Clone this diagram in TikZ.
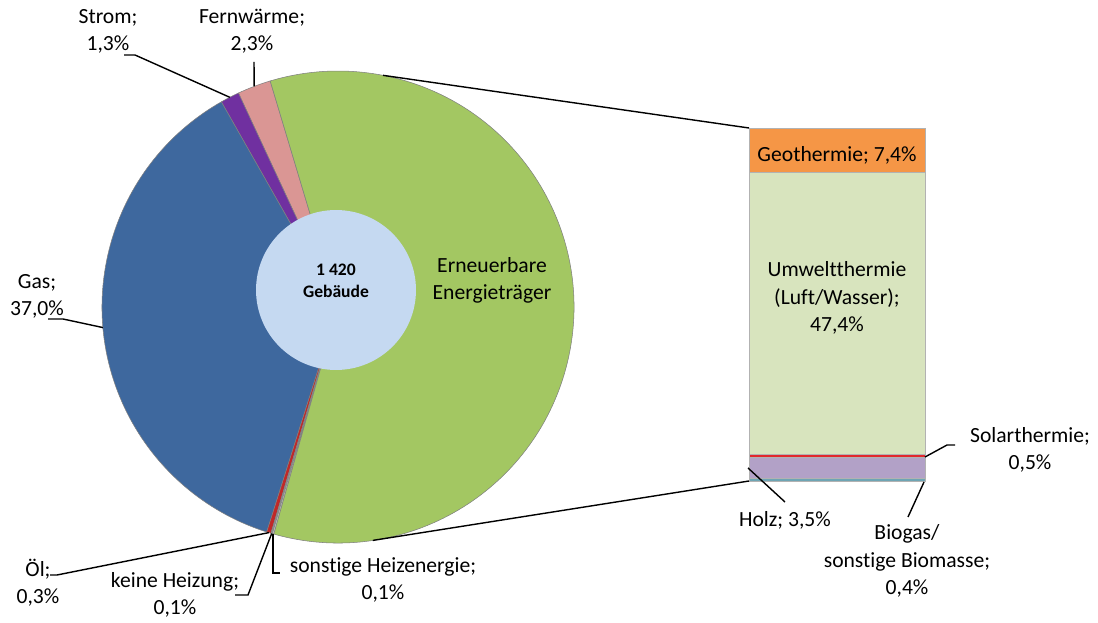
\documentclass[tikz,border=0pt]{standalone}
\usepackage{fontspec}
\setmainfont{Carlito}[Ligatures=NoCommon]
\usetikzlibrary{calc}
\definecolor{gasblau}{RGB}{62,104,158}
\definecolor{erngruen}{RGB}{163,199,98}
\definecolor{stromlila}{RGB}{112,48,160}
\definecolor{fernrosa}{RGB}{218,150,148}
\definecolor{oelrot}{RGB}{192,40,40}
\definecolor{keingrau}{RGB}{150,150,150}
\definecolor{sonstgrau}{RGB}{200,200,200}
\definecolor{blase}{RGB}{197,217,241}
\definecolor{geoorange}{RGB}{245,150,70}
\definecolor{umweltgruen}{RGB}{216,228,190}
\definecolor{solarrot}{RGB}{225,40,45}
\definecolor{holzlila}{RGB}{178,161,199}
\definecolor{biotuerkis}{RGB}{110,165,180}
\tikzset{lbl/.style={align=center, inner sep=0pt},
  ldr/.style={black, line width=0.8pt}}
\begin{document}
\begin{tikzpicture}[x=0.02cm, y=0.02cm, font=\fontsize{12.3}{15.5}\selectfont]
\useasboundingbox (0,0) rectangle (1098,622);
\coordinate (M) at (338,315);
\foreach \a/\b/\c in {106.7/114.96/fernrosa, 114.96/119.62/stromlila, 119.62/252.42/gasblau, 252.42/253.5/oelrot, 253.5/253.86/keingrau, 253.86/254.22/sonstgrau, 254.22/466.7/erngruen}
  \filldraw[fill=\c, draw=black!50, line width=0.3pt] (M) -- ++(\a:236) arc (\a:\b:236) -- cycle;
\node[circle, fill=blase, minimum size=3.2cm, inner sep=0pt] (zentrum) at (336,332) {};
\node[align=center, font=\bfseries\fontsize{10}{12.5}\selectfont] (anzahl) at (336,341) {1 420\\Gebäude};
\foreach \o/\u/\c in {494/449.9/geoorange, 449.9/167.3/umweltgruen, 167.3/164.3/solarrot, 164.3/143.4/holzlila, 143.4/141/biotuerkis}
  \filldraw[fill=\c, draw=black!30, line width=0.3pt] (749,\o) rectangle (925,\u);
\node[lbl] (strom) at (108,591) {Strom;\\1,3\%};
\node[lbl] (fern) at (252,591) {Fernwärme;\\2,3\%};
\node[lbl] (gas) at (37,326) {Gas;\\37,0\%};
\node[lbl] (ern) at (492,342) {Erneuerbare\\Energieträger};
\node[lbl] (oel) at (38,39) {Öl;\\0,3\%};
\node[lbl] (keine) at (175,27) {keine Heizung;\\0,1\%};
\node[lbl] (sonst) at (383,42) {sonstige Heizenergie;\\0,1\%};
\node[lbl] (geo) at (837,467) {Geothermie; 7,4\%};
\node[lbl] (umwelt) at (837,324) {Umweltthermie\\(Luft/Wasser);\\47,4\%};
\node[lbl] (solar) at (1030,172) {Solarthermie;\\0,5\%};
\node[lbl] (holz) at (785,102) {Holz; 3,5\%};
\node[lbl] (bio) at (907,61) {Biogas/\\sonstige Biomasse;\\0,4\%};
\coordinate (pStrom) at ($(M)+(117.3:236)$);
\coordinate (pFern) at ($(M)+(110.8:236)$);
\coordinate (pGas) at ($(M)+(185:236)$);
\coordinate (pOel) at ($(M)+(252.96:236)$);
\coordinate (pKeine) at ($(M)+(253.68:236)$);
\coordinate (pSonst) at ($(M)+(254.04:236)$);
\coordinate (pOben) at ($(M)+(79:236)$);
\coordinate (pUnten) at ($(M)+(-81.5:236)$);
\coordinate (bOben) at (749,494);
\coordinate (bUnten) at (749,141);
\coordinate (kStrom) at (135,567);
\coordinate (kFern) at (254,560);
\coordinate (kGas) at (63,303);
\coordinate (kOel) at (57,47);
\coordinate (kKeine) at (248,27);
\coordinate (kSonst) at (280,49);
\coordinate (kSolar) at (947,177);
\coordinate (pSolar) at (925,165);
\coordinate (kHolz) at (785,120);
\coordinate (pHolz) at (748,154);
\coordinate (kBio) at (908,105);
\coordinate (pBio) at (924,140);
\draw[ldr] (pOben) -- (bOben);
\draw[ldr] (pUnten) -- (bUnten);
\draw[ldr] (pStrom) -- (kStrom) -- ++(-11,0);
\draw[ldr] (pFern) -- (kFern);
\draw[ldr] (pGas) -- (kGas) -- ++(-15,0);
\draw[ldr] (pOel) -- (kOel) -- ++(-7,0);
\draw[ldr] (pKeine) -- (kKeine) -- ++(-13,0);
\draw[ldr] (pSonst) |- (kSonst);
\draw[ldr] (pSolar) -- (kSolar) -- ++(8,0);
\draw[ldr] (pHolz) -- (kHolz);
\draw[ldr] (pBio) -- (kBio);
\end{tikzpicture}
\end{document}
